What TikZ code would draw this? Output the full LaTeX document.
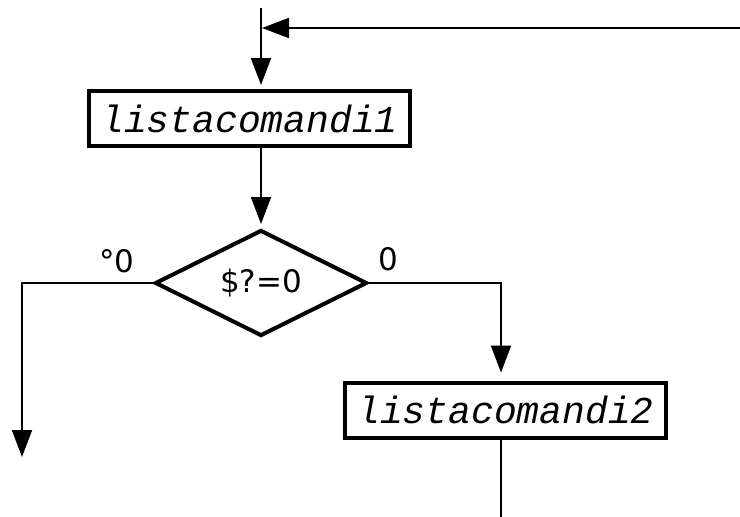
\documentclass[tikz,border=0pt]{standalone}
\usepackage{fontspec}
\setmonofont{Liberation Mono}
\newfontfamily\dvs{DejaVu Sans}
\usetikzlibrary{shapes.geometric,arrows.meta}
\begin{document}
\begin{tikzpicture}[x=1pt,y=-1pt,
  cmdbox/.style={draw,line width=4pt,rectangle,minimum width=321pt,minimum height=55pt,inner sep=0pt,
    font=\fontsize{38}{40}\selectfont\ttfamily\itshape},
  test/.style={draw,line width=4pt,diamond,minimum width=212pt,minimum height=106pt,inner sep=0pt,aspect=2,
    font=\fontsize{31}{34}\selectfont\dvs},
  lbl/.style={font=\fontsize{31}{34}\selectfont\dvs,inner sep=0pt},
  conn/.style={line width=2pt},
  arr/.style={conn,-{Triangle[length=27pt,width=20pt]}}]
\useasboundingbox (0,0) rectangle (740,517);
\node[cmdbox] (box1) at (249.5,118.5) {listacomandi1};
\node[test] (dia) at (261,283) {\$?=0};
\node[cmdbox] (box2) at (505.5,410) {listacomandi2};
\node[lbl] (lneq) at (117,261) {°0};
\node[lbl] (leq) at (388,259) {0};
\coordinate (top) at (261,8);
\coordinate (tr) at (740,28);
\coordinate (jn) at (262,28);
\coordinate (lend) at (22,457);
\coordinate (rx) at (501,300);
\coordinate (bot) at (501,517);
\draw[arr,shorten >=4pt] (top) -- (box1.north -| top);
\draw[arr] (tr) -- (jn);
\draw[arr,shorten >=4pt] (box1.south -| top) -- (dia.north);
\draw[arr] (dia.west) -| (lend);
\draw[arr,shorten >=8pt] (dia.east) -| (box2.north -| rx);
\draw[conn] (box2.south -| rx) -- (bot);
\end{tikzpicture}
\end{document}
